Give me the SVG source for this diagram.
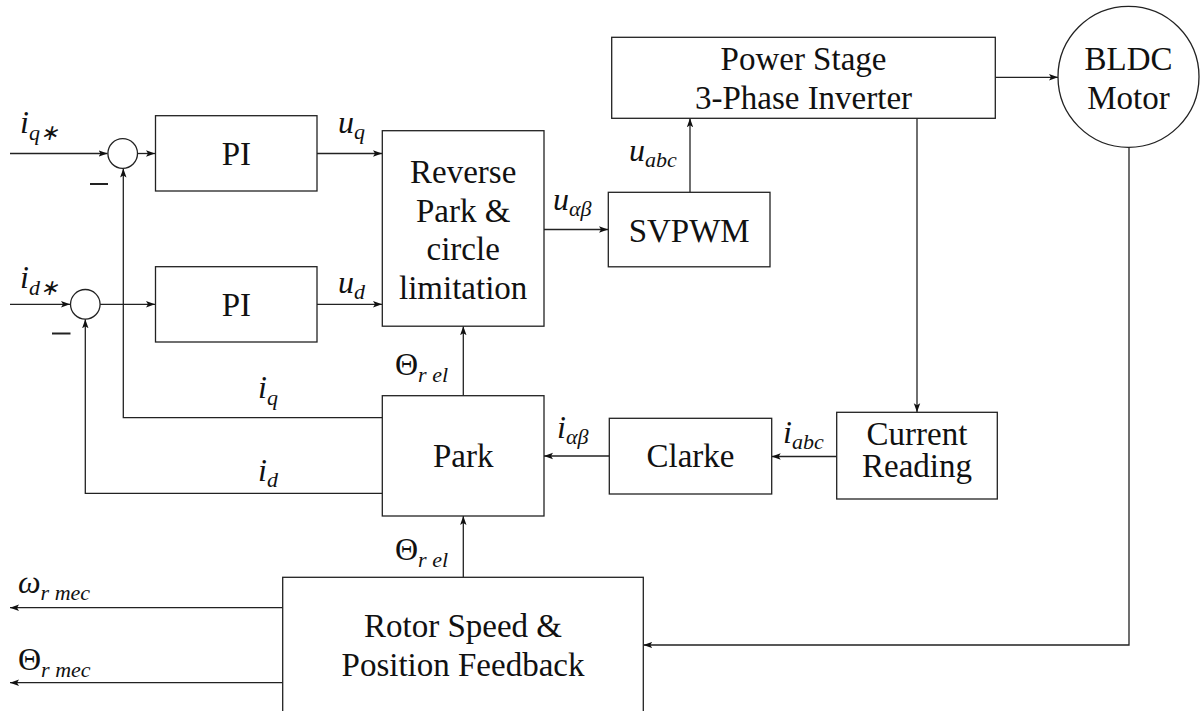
<svg xmlns="http://www.w3.org/2000/svg" width="1202" height="711" viewBox="0 0 1202 711">
<defs>
<marker id="a" markerWidth="10" markerHeight="8" refX="9" refY="4" orient="auto" markerUnits="userSpaceOnUse">
<path d="M0,0.8 L9,4 L0,7.2 L2,4 Z" fill="#111"/>
</marker>
</defs>
<rect width="1202" height="711" fill="#fff"/>

<g id="connectors" fill="none" stroke="#222" stroke-width="1.3" marker-end="url(#a)">
<path d="M10,153.5 H107.5" marker-end="url(#a)"/>
<path d="M137.5,153.5 H155" marker-end="url(#a)"/>
<path d="M317,153.5 H382" marker-end="url(#a)"/>
<path d="M10,304.3 H70" marker-end="url(#a)"/>
<path d="M100,304.3 H155" marker-end="url(#a)"/>
<path d="M317,304.3 H382" marker-end="url(#a)"/>
<path d="M544,229.5 H608" marker-end="url(#a)"/>
<path d="M690,192.3 V118.3" marker-end="url(#a)"/>
<path d="M995.3,77.3 H1058" marker-end="url(#a)"/>
<path d="M917,118.3 V412.3" marker-end="url(#a)"/>
<path d="M836.7,456.5 H771.7" marker-end="url(#a)"/>
<path d="M609.3,456 H544" marker-end="url(#a)"/>
<path d="M463.3,395.7 V326.2" marker-end="url(#a)"/>
<path d="M463.3,577.3 V516" marker-end="url(#a)"/>
<path d="M382.3,417.7 H123.3 V168.5" marker-end="url(#a)"/>
<path d="M382.3,493.3 H85.3 V319.3" marker-end="url(#a)"/>
<path d="M1129,147.3 V645 H643.3" marker-end="url(#a)"/>
<path d="M282.7,607.7 H10" marker-end="url(#a)"/>
<path d="M282.7,682.7 H10" marker-end="url(#a)"/>
</g>

<g fill="#fff" stroke="#222" stroke-width="1.3">
<g id="sum_q"><circle cx="122.7" cy="153.5" r="14.8"/><path d="M90,184 H108" stroke-width="2"/></g>
<g id="sum_d"><circle cx="85.3" cy="304.3" r="14.8"/><path d="M52,333.5 H70.5" stroke-width="2"/></g>
<g id="pi_q"><rect x="155.5" y="115.7" width="161.5" height="75.3"/></g>
<g id="pi_d"><rect x="155.5" y="266.7" width="161.5" height="75.3"/></g>
<g id="reverse_park"><rect x="382.3" y="130.7" width="161.7" height="195.5"/></g>
<g id="svpwm"><rect x="608.3" y="192.3" width="161.7" height="74.5"/></g>
<g id="power_stage"><rect x="611.7" y="37.3" width="383.6" height="81"/></g>
<g id="bldc"><circle cx="1128.5" cy="76.8" r="70.5"/></g>
<g id="current_reading"><rect x="836.7" y="412.3" width="160.6" height="86.7"/></g>
<g id="clarke"><rect x="609.3" y="418.3" width="162.4" height="75.7"/></g>
<g id="park"><rect x="382.3" y="395.7" width="161.7" height="120.3"/></g>
<g id="rotor"><rect x="282.7" y="577.3" width="360.6" height="145"/></g>
</g>

<g id="node_texts" fill="#111" text-anchor="middle" font-size="33">
<text style="font-family:'Liberation Serif'" x="236.3" y="165">PI</text>
<text style="font-family:'Liberation Serif'" x="236.3" y="316">PI</text>
<text style="font-family:'Liberation Serif'" x="463.2" y="183">Reverse</text>
<text style="font-family:'Liberation Serif'" x="463.2" y="222">Park &amp;</text>
<text style="font-family:'Liberation Serif'" x="463.2" y="260">circle</text>
<text style="font-family:'Liberation Serif'" x="463.2" y="299">limitation</text>
<text style="font-family:'Liberation Serif'" x="689.2" y="241.5">SVPWM</text>
<text style="font-family:'Liberation Serif'" x="803.5" y="70">Power Stage</text>
<text style="font-family:'Liberation Serif'" x="803.5" y="109">3-Phase Inverter</text>
<text style="font-family:'Liberation Serif'" x="1128.5" y="70">BLDC</text>
<text style="font-family:'Liberation Serif'" x="1128.5" y="109">Motor</text>
<text style="font-family:'Liberation Serif'" x="917" y="445">Current</text>
<text style="font-family:'Liberation Serif'" x="917" y="477">Reading</text>
<text style="font-family:'Liberation Serif'" x="690.5" y="467">Clarke</text>
<text style="font-family:'Liberation Serif'" x="463.2" y="467">Park</text>
<text style="font-family:'Liberation Serif'" x="463" y="637">Rotor Speed &amp;</text>
<text style="font-family:'Liberation Serif'" x="463" y="676">Position Feedback</text>
</g>

<g id="labels" fill="#111" font-size="32" font-style="italic">
<text style="font-family:'Liberation Serif'" x="20" y="133">i<tspan font-size="22" dy="7">q∗</tspan></text>
<text style="font-family:'Liberation Serif'" x="20" y="288">i<tspan font-size="22" dy="7">d∗</tspan></text>
<text style="font-family:'Liberation Serif'" x="338" y="133">u<tspan font-size="22" dy="6">q</tspan></text>
<text style="font-family:'Liberation Serif'" x="338" y="293">u<tspan font-size="22" dy="6">d</tspan></text>
<text style="font-family:'Liberation Serif'" x="553" y="210">u<tspan font-size="22" dy="6">αβ</tspan></text>
<text style="font-family:'Liberation Serif'" x="629" y="161">u<tspan font-size="22" dy="6">abc</tspan></text>
<text style="font-family:'Liberation Serif'" x="395" y="375"><tspan font-style="normal">Θ</tspan><tspan font-size="22" dy="7">r el</tspan></text>
<text style="font-family:'Liberation Serif'" x="395" y="560"><tspan font-style="normal">Θ</tspan><tspan font-size="22" dy="7">r el</tspan></text>
<text style="font-family:'Liberation Serif'" x="557" y="438">i<tspan font-size="22" dy="6">αβ</tspan></text>
<text style="font-family:'Liberation Serif'" x="783" y="443">i<tspan font-size="22" dy="6">abc</tspan></text>
<text style="font-family:'Liberation Serif'" x="258" y="398">i<tspan font-size="22" dy="7">q</tspan></text>
<text style="font-family:'Liberation Serif'" x="258" y="481">i<tspan font-size="22" dy="6">d</tspan></text>
<text style="font-family:'Liberation Serif'" x="18" y="593">ω<tspan font-size="22" dy="7">r mec</tspan></text>
<text style="font-family:'Liberation Serif'" x="18" y="670"><tspan font-style="normal">Θ</tspan><tspan font-size="22" dy="7">r mec</tspan></text>
</g>
</svg>
